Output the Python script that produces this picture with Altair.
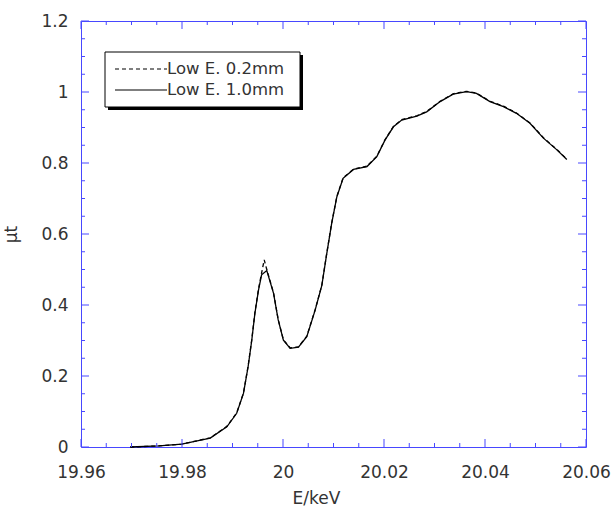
import altair as alt
import pandas as pd

# ---- data ----
energy_1mm = [19.96976, 19.97542, 19.97994, 19.98559, 19.98888, 19.99083, 19.99217, 19.99309,
              19.99381, 19.99443, 19.99515, 19.99576, 19.99679, 19.99813, 19.99905, 20.00008,
              20.00142, 20.00306, 20.00471, 20.00635, 20.00769, 20.00861, 20.00964, 20.01067,
              20.01190, 20.01396, 20.01663, 20.01858, 20.02022, 20.02187, 20.02351, 20.02649,
              20.02845, 20.03112, 20.03369, 20.03636, 20.03831, 20.04098, 20.04366, 20.04623,
              20.04890, 20.05157, 20.05424, 20.05620]
mu_1mm = [0.000, 0.003, 0.008, 0.025, 0.057, 0.095, 0.151, 0.226,
          0.300, 0.376, 0.442, 0.485, 0.497, 0.433, 0.358, 0.301,
          0.278, 0.281, 0.311, 0.385, 0.455, 0.540, 0.630, 0.705,
          0.757, 0.782, 0.790, 0.818, 0.865, 0.902, 0.921, 0.932,
          0.944, 0.973, 0.994, 1.001, 0.996, 0.973, 0.959, 0.940,
          0.912, 0.870, 0.837, 0.810]

energy_02mm = [19.96976, 19.97542, 19.97994, 19.98559, 19.98888, 19.99083, 19.99217, 19.99309,
               19.99381, 19.99443, 19.99515, 19.99576, 19.99628, 19.99679, 19.99813, 19.99905,
               20.00008, 20.00142, 20.00306, 20.00471, 20.00635, 20.00769, 20.00861, 20.00964,
               20.01067, 20.01190, 20.01396, 20.01663, 20.01858, 20.02022, 20.02187, 20.02351,
               20.02649, 20.02845, 20.03112, 20.03369, 20.03636, 20.03831, 20.04098, 20.04366,
               20.04623, 20.04890, 20.05157, 20.05424, 20.05620]
mu_02mm = [0.000, 0.003, 0.008, 0.026, 0.058, 0.096, 0.152, 0.228,
           0.302, 0.378, 0.445, 0.490, 0.527, 0.500, 0.434, 0.359,
           0.302, 0.279, 0.282, 0.312, 0.386, 0.456, 0.541, 0.631,
           0.706, 0.758, 0.783, 0.791, 0.819, 0.866, 0.903, 0.922,
           0.933, 0.945, 0.974, 0.995, 1.002, 0.997, 0.974, 0.960,
           0.941, 0.913, 0.871, 0.838, 0.811]

legend_labels = ["Low E. 0.2mm", "Low E. 1.0mm"]

x_major = [19.96, 19.98, 20.0, 20.02, 20.04, 20.06]
x_minor = [19.965, 19.97, 19.975, 19.985, 19.99, 19.995, 20.005, 20.01, 20.015,
           20.025, 20.03, 20.035, 20.045, 20.05, 20.055]
y_major = [0.0, 0.2, 0.4, 0.6, 0.8, 1.0, 1.2]
y_minor = [0.05, 0.1, 0.15, 0.25, 0.3, 0.35, 0.45, 0.5, 0.55, 0.65, 0.7, 0.75,
           0.85, 0.9, 0.95, 1.05, 1.1, 1.15]

# ---- layout / style ----
W, H = 505, 426
BLUE = "#4848ff"
FONT = "DejaVu Sans"
TXT = "#333333"
MAJ, MIN = 8, 4

xscale = alt.Scale(domain=[19.96, 20.06], nice=False, zero=False)
yscale = alt.Scale(domain=[0, 1.2], nice=False, zero=False)

df1 = pd.DataFrame({"E": energy_1mm, "mu": mu_1mm})
df02 = pd.DataFrame({"E": energy_02mm, "mu": mu_02mm})

x_axis = alt.Axis(values=x_major, labelExpr="format(datum.value, '~g')",
                  labelFlush=False, labelOverlap=False, labelBound=False,
                  labelPadding=17, titlePadding=10, titleX=235)
y_axis = alt.Axis(values=y_major, labelExpr="format(datum.value, '~g')",
                  labelFlush=False, labelOverlap=False, labelPadding=13,
                  titlePadding=20)

solid = alt.Chart(df1).mark_line(color="black", strokeWidth=1.3).encode(
    x=alt.X("E:Q", scale=xscale, axis=x_axis, title="E/keV"),
    y=alt.Y("mu:Q", scale=yscale, axis=y_axis, title="μt"),
)
dashed = alt.Chart(df02).mark_line(color="black", strokeWidth=1.3,
                                   strokeDash=[4, 3]).encode(
    x=alt.X("E:Q", title="E/keV"),
    y=alt.Y("mu:Q", title="μt"),
)


def yticks(vals, length, right=False):
    d = pd.DataFrame({"v": vals})
    xc = W - length / 2 if right else length / 2
    return alt.Chart(d).mark_tick(color=BLUE, thickness=1, size=length,
                                  orient="horizontal", opacity=1).encode(
        y=alt.Y("v:Q", title="μt"), x=alt.value(xc))


def xticks(vals, length, top=False):
    d = pd.DataFrame({"v": vals})
    yc = length / 2 if top else H - length / 2
    return alt.Chart(d).mark_tick(color=BLUE, thickness=1, size=length,
                                  orient="vertical", opacity=1).encode(
        x=alt.X("v:Q", title="E/keV"), y=alt.value(yc))


ticks = [
    yticks(y_major, MAJ), yticks(y_minor, MIN),
    yticks(y_major, MAJ, True), yticks(y_minor, MIN, True),
    xticks(x_major, MAJ), xticks(x_minor, MIN),
    xticks(x_major, MAJ, True), xticks(x_minor, MIN, True),
]

# ---- legend (drawn by hand) ----
one = pd.DataFrame({"k": [0]})
LX0, LX1, LY0, LY1 = 24, 219, 31, 86
shadow = alt.Chart(one).mark_rect(color="black").encode(
    x=alt.value(LX0 + 3), x2=alt.value(LX1 + 3),
    y=alt.value(LY0 + 3), y2=alt.value(LY1 + 3))
box = alt.Chart(one).mark_rect(fill="white", stroke="black", strokeWidth=1).encode(
    x=alt.value(LX0), x2=alt.value(LX1), y=alt.value(LY0), y2=alt.value(LY1))
leg_dash = alt.Chart(one).mark_rule(color="black", strokeWidth=1.2,
                                    strokeDash=[4, 3]).encode(
    x=alt.value(34), x2=alt.value(86), y=alt.value(48))
leg_solid = alt.Chart(one).mark_rule(color="black", strokeWidth=1.2).encode(
    x=alt.value(34), x2=alt.value(86), y=alt.value(69))
lab_df1 = pd.DataFrame({"t": [legend_labels[0]]})
lab_df2 = pd.DataFrame({"t": [legend_labels[1]]})
lab1 = alt.Chart(lab_df1).mark_text(align="left", baseline="middle", font=FONT,
                                    fontSize=16.5, color=TXT).encode(
    text="t:N", x=alt.value(86), y=alt.value(48))
lab2 = alt.Chart(lab_df2).mark_text(align="left", baseline="middle", font=FONT,
                                    fontSize=16.5, color=TXT).encode(
    text="t:N", x=alt.value(86), y=alt.value(69))

chart = alt.layer(
    solid, dashed, *ticks, shadow, box, leg_dash, leg_solid, lab1, lab2
).properties(
    width=W, height=H,
    autosize=alt.AutoSizeParams(type="none"),
    padding={"left": 81, "top": 21, "right": 26, "bottom": 59},
    background="white",
).configure_view(
    stroke=BLUE, strokeWidth=1
).configure_axis(
    domain=False, ticks=False, grid=False,
    labelFont=FONT, labelFontSize=17, labelColor=TXT,
    titleFont=FONT, titleFontSize=17, titleColor=TXT, titleFontWeight="normal",
)

chart.save("out.html", embed_options={"renderer": "svg", "actions": False})
